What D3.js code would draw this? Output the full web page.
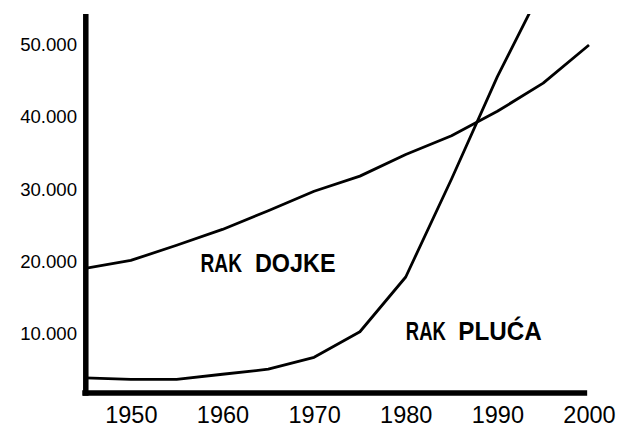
<!DOCTYPE html>
<html>
<head>
<meta charset="utf-8">
<script src="https://cdn.jsdelivr.net/npm/d3@7"></script>
<style>
  body { margin: 0; background: #fff; }
  text { font-family: 'Liberation Sans', Arial, sans-serif; fill: #000; }
</style>
</head>
<body>
<script>
// data
const years = [1945, 1950, 1955, 1960, 1965, 1970, 1975, 1980, 1985, 1990, 1995, 2000];
const rakDojke = [19000, 20100, 22200, 24400, 27000, 29700, 31800, 34800, 37400, 40800, 44700, 50000];
const rakPluca = [3800, 3600, 3600, 4300, 5000, 6650, 10200, 17800, 31400, 45600, 58200, null];
const xTickYears = [1950, 1960, 1970, 1980, 1990, 2000];
const yTickValues = [10000, 20000, 30000, 40000, 50000];
const yTickLabels = ['10.000', '20.000', '30.000', '40.000', '50.000'];

const width = 621, height = 428;

let svg = d3
  .select('body')
  .append('svg')
  .attr('width', width)
  .attr('height', height);

//SCALES
let x = d3.scaleLinear().domain([1945, 2000]).range([85, 589]);
let y = d3.scaleLinear().domain([1700, 54300]).range([393, 14]);

//CLIP so the steep line stops at the top of the axis
svg.append('clipPath')
  .attr('id', 'plot')
  .append('rect')
  .attr('x', x.range()[0])
  .attr('y', y.range()[1])
  .attr('width', x.range()[1] - x.range()[0] + 10)
  .attr('height', y.range()[0] - y.range()[1]);

//LINES
let line = d3
  .line()
  .defined((d) => d[1] != null)
  .x((d) => x(d[0]))
  .y((d) => y(d[1]));

[rakDojke, rakPluca].forEach((series) => {
  svg.append('path')
    .datum(years.map((yr, i) => [yr, series[i]]))
    .attr('clip-path', 'url(#plot)')
    .attr('fill', 'none')
    .attr('stroke', '#000')
    .attr('stroke-width', 2.8)
    .attr('stroke-linejoin', 'round')
    .attr('d', line);
});

//AXES (labels only, lines drawn below)
let xAxis = svg.append('g')
  .attr('transform', `translate(0,${y.range()[0]})`)
  .call(d3.axisBottom(x).tickValues(xTickYears).tickFormat(d3.format('d')).tickSize(0).tickPadding(13.5));
xAxis.select('.domain').remove();
xAxis.selectAll('text').style('font-size', '23.5px').attr('fill', '#000');

let yAxis = svg.append('g')
  .attr('transform', `translate(${x.range()[0]},0)`)
  .call(d3.axisLeft(y).tickValues(yTickValues).tickFormat((d, i) => yTickLabels[i]).tickSize(0).tickPadding(8));
yAxis.select('.domain').remove();
yAxis.selectAll('text').style('font-size', '18.6px').attr('fill', '#000');

const axisW = 5.5;
svg.append('line')
  .attr('x1', x.range()[0] + 0.8).attr('x2', x.range()[0] + 0.8)
  .attr('y1', y.range()[0] + axisW / 2).attr('y2', y.range()[1])
  .attr('stroke', '#000').attr('stroke-width', axisW);
svg.append('line')
  .attr('x1', x.range()[0] - axisW / 2).attr('x2', x(1999.8))
  .attr('y1', y.range()[0]).attr('y2', y.range()[0])
  .attr('stroke', '#000').attr('stroke-width', axisW);

//SERIES LABELS, condensed bold, word by word
function label(words, baseline) {
  let t = svg.append('text')
    .attr('y', baseline)
    .style('font-size', '25.5px')
    .style('font-weight', 'bold');
  words.forEach((w, i) => {
    if (i > 0) t.append(() => document.createTextNode(' '));
    t.append('tspan')
      .attr('x', w.x)
      .attr('textLength', w.len)
      .attr('lengthAdjust', 'spacingAndGlyphs')
      .text(w.text);
  });
}
label([{ text: 'RAK', x: 200.5, len: 41.5 }, { text: 'DOJKE', x: 255, len: 80.5 }], 271.7);
label([{ text: 'RAK', x: 405.8, len: 40 }, { text: 'PLUĆA', x: 458.3, len: 83.4 }], 340.3);
</script>
</body>
</html>
